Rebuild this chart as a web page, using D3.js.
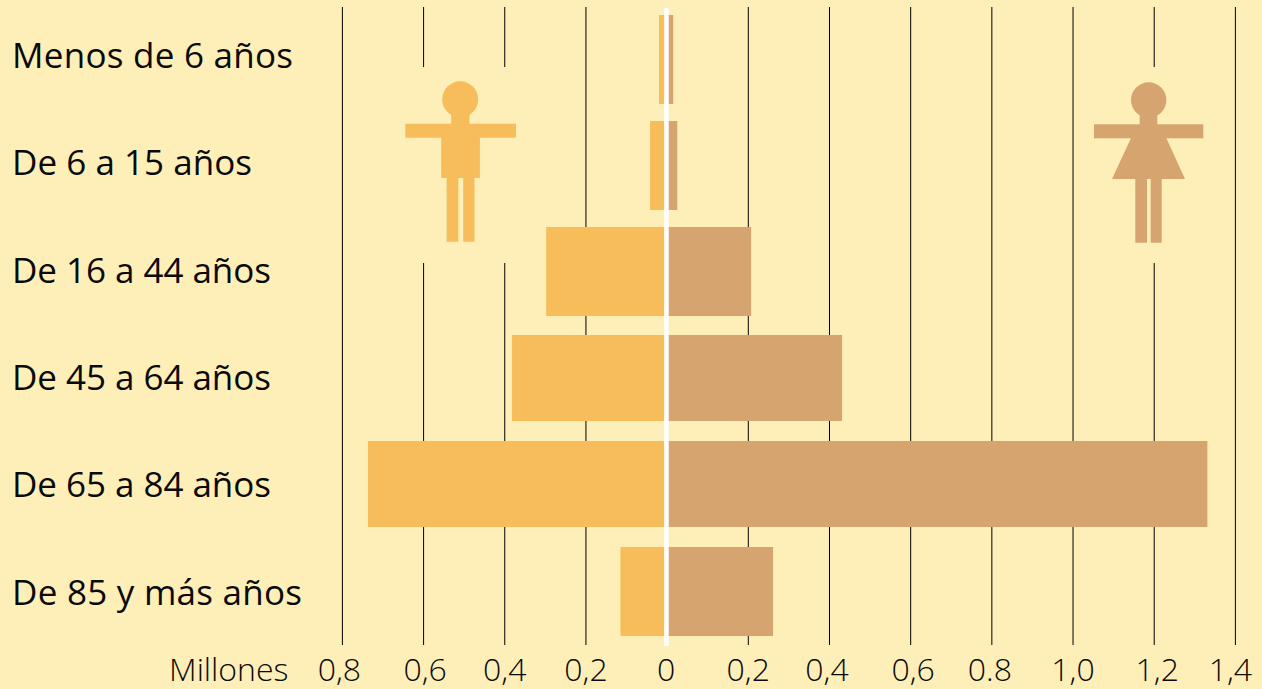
<!DOCTYPE html>
<html><head><meta charset="utf-8">
<script src="https://cdn.jsdelivr.net/npm/d3@7"></script>
<style>html,body{margin:0;padding:0;background:#FEEFB8;overflow:hidden}svg{display:block}</style>
</head><body><div id="c"></div>
<script>
const categories=["Menos de 6 años","De 6 a 15 años","De 16 a 44 años","De 45 a 64 años","De 65 a 84 años","De 85 y más años"];
const men=[0.02,0.042,0.298,0.382,0.737,0.115];
const women=[0.015,0.025,0.207,0.431,1.331,0.261];
const tickValues=[-0.8,-0.6,-0.4,-0.2,0,0.2,0.4,0.6,0.8,1.0,1.2,1.4];
const tickLabels=["0,8","0,6","0,4","0,2","0","0,2","0,4","0,6","0.8","1,0","1,2","1,4"];
const tickNudge=[-3,1.5,0,0,-1,0,-2.5,2.5,-2,0,3,-5];
const rowTops=[15,121,227,335,441,547], rowBottoms=[104,210,316,421,527,636];
const labelBaselines=[68,175,283,390,497,605];
const labelWidths=[281,240,259,259,259,290];
const W=1262,H=689,BG="#FEEFB8",MEN="#F6BD5A",WOMEN="#D6A46E";
const svg=d3.select("#c").append("svg").attr("width",W).attr("height",H);
svg.append("rect").attr("width",W).attr("height",H).attr("fill",BG);
const x=d3.scaleLinear().domain([-0.8,1.4]).range([342.4,1235.4]);
const font="'Open Sans',sans-serif";
svg.append("g").selectAll("line").data(tickValues.filter(d=>d!==0)).join("line")
 .attr("x1",d=>x(d)).attr("x2",d=>x(d)).attr("y1",7).attr("y2",645)
 .attr("stroke","#000").attr("stroke-width",1);
[-0.6,-0.4,1.2].forEach(v=>svg.append("rect").attr("x",x(v)-2).attr("width",4).attr("y",67).attr("height",196).attr("fill",BG));
const rows=svg.append("g").selectAll("g").data(categories).join("g");
rows.append("rect").attr("x",(d,i)=>x(-men[i])).attr("width",(d,i)=>x(0)-x(-men[i])).attr("y",(d,i)=>rowTops[i]).attr("height",(d,i)=>rowBottoms[i]-rowTops[i]).attr("fill",MEN);
rows.append("rect").attr("x",x(0)).attr("width",(d,i)=>x(women[i])-x(0)).attr("y",(d,i)=>rowTops[i]).attr("height",(d,i)=>rowBottoms[i]-rowTops[i]).attr("fill",WOMEN);
svg.append("rect").attr("x",x(0)-3).attr("width",4.6).attr("y",8).attr("height",638).attr("fill","#fff");
rows.append("text").text(d=>d).attr("x",12).attr("y",(d,i)=>labelBaselines[i]).attr("font-family",font).attr("font-weight",500).attr("font-size",35).attr("textLength",(d,i)=>labelWidths[i]).attr("lengthAdjust","spacing").attr("fill","#0a0a0a");
svg.append("g").selectAll("text").data(tickValues).join("text")
 .text((d,i)=>tickLabels[i]).attr("x",(d,i)=>x(d)+tickNudge[i]).attr("y",681).attr("text-anchor","middle")
 .attr("font-family",font).attr("font-weight",300).attr("font-size",32).attr("fill","#0a0a0a");
svg.append("text").text("Millones").attr("x",169).attr("y",681).attr("font-family",font).attr("font-weight",300).attr("font-size",32).attr("fill","#0a0a0a");
const man=svg.append("g").attr("fill",MEN);
man.append("circle").attr("cx",460.2).attr("cy",99.3).attr("r",18);
[[451.2,110,18.3,16],[405.3,123.7,110.7,14],[441.2,130,38.7,48],[446.6,170,11.7,71.7],[463.2,170,11.3,71.7]].forEach(r=>man.append("rect").attr("x",r[0]).attr("y",r[1]).attr("width",r[2]).attr("height",r[3]));
const woman=svg.append("g").attr("fill",WOMEN);
woman.append("circle").attr("cx",1148.7).attr("cy",100).attr("r",17.7);
[[1139.7,110,17.6,16],[1094,124.3,109.3,14],[1135.3,170,11.7,72.7],[1150.7,170,11,72.7]].forEach(r=>woman.append("rect").attr("x",r[0]).attr("y",r[1]).attr("width",r[2]).attr("height",r[3]));
woman.append("path").attr("d","M1131,138L1166.3,138L1185,179L1112,179Z");
</script></body></html>
